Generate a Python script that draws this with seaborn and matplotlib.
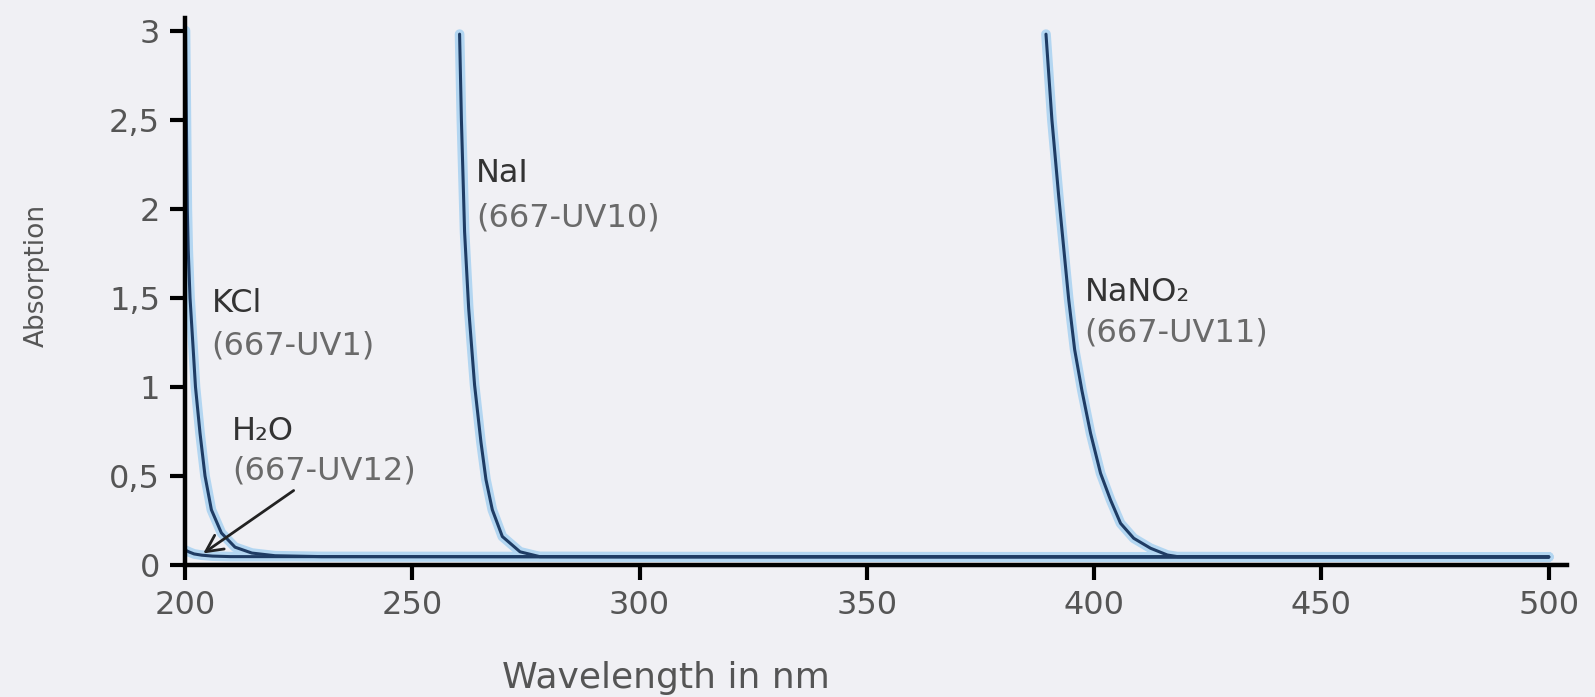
import matplotlib
matplotlib.use("Agg")
import matplotlib.pyplot as plt
import seaborn as sns
import pandas as pd

# ---- data ----
kcl_wl = [200.1, 200.3, 200.5, 200.7, 201.1, 201.8, 202.3, 203.3, 204.4, 205.8, 208, 211, 214.7, 219.8, 230, 500]
kcl_abs = [3.0, 2.5, 2.0, 1.77, 1.5, 1.21, 1.0, 0.74, 0.5, 0.31, 0.18, 0.10, 0.067, 0.052, 0.047, 0.045]

nai_wl = [260.4, 260.8, 261.5, 262.4, 263.7, 265.1, 266.2, 267.6, 269.8, 273.7, 278, 300, 500]
nai_abs = [2.98, 2.5, 1.87, 1.44, 1.01, 0.69, 0.48, 0.31, 0.16, 0.074, 0.047, 0.046, 0.045]

nano2_wl = [389.4, 390.7, 392.2, 393.6, 394.4, 395.7, 397.3, 399.2, 401.4, 403.6, 405.8, 408.7, 412.4, 416.1, 418.3, 450, 500]
nano2_abs = [2.98, 2.5, 2.07, 1.7, 1.49, 1.21, 0.98, 0.74, 0.515, 0.365, 0.234, 0.15, 0.094, 0.056, 0.047, 0.046, 0.045]

h2o_wl = [200, 201, 202, 203.7, 206, 210, 300, 500]
h2o_abs = [0.084, 0.072, 0.062, 0.055, 0.05, 0.047, 0.046, 0.045]

x_ticks = [200, 250, 300, 350, 400, 450, 500]
y_ticks = [0, 0.5, 1, 1.5, 2, 2.5, 3]
y_tick_labels = ["0", "0,5", "1", "1,5", "2", "2,5", "3"]

labels = [
    # name, code, x, y_name, y_code
    ("KCl", "(667-UV1)", 205.8, 1.47, 1.23),
    ("NaI", "(667-UV10)", 264.0, 2.20, 1.95),
    ("NaNO₂", "(667-UV11)", 397.9, 1.53, 1.30),
    ("H₂O", "(667-UV12)", 210.3, 0.75, 0.525),
]

series = {
    "KCl": (kcl_wl, kcl_abs),
    "NaI": (nai_wl, nai_abs),
    "NaNO2": (nano2_wl, nano2_abs),
    "H2O": (h2o_wl, h2o_abs),
}

# ---- style ----
sns.set_theme(style="white")
plt.rcParams["font.family"] = ["DejaVu Sans"]
bg = "#f0f0f4"

fig = plt.figure(figsize=(15.95, 6.97), dpi=100, facecolor=bg)
ax = fig.add_axes([0.116, 0.1894, 0.8664, 0.7846])
ax.set_facecolor(bg)

halo = "#b3d6f1"
core = "#1f3c64"
for name, (wl, ab) in series.items():
    df = pd.DataFrame({"wl": wl, "abs": ab})
    sns.lineplot(data=df, x="wl", y="abs", ax=ax, color=halo, lw=7,
                 estimator=None, sort=False, zorder=2)
for name, (wl, ab) in series.items():
    df = pd.DataFrame({"wl": wl, "abs": ab})
    sns.lineplot(data=df, x="wl", y="abs", ax=ax, color=core, lw=2.2,
                 estimator=None, sort=False, zorder=3)

ax.set_xlim(200, 504)
ax.set_ylim(0, 3.07)
ax.set_xticks(x_ticks)
ax.set_xticklabels([str(t) for t in x_ticks])
ax.set_yticks(y_ticks)
ax.set_yticklabels(y_tick_labels)

for s in ["top", "right"]:
    ax.spines[s].set_visible(False)
for s in ["left", "bottom"]:
    ax.spines[s].set_color("black")
    ax.spines[s].set_linewidth(3.2)
    ax.spines[s].set_zorder(4)

ax.tick_params(axis="both", which="major", direction="out", length=11, width=3.0,
               color="black", labelcolor="#555555", labelsize=23, pad=7,
               left=True, bottom=True)

ax.set_xlabel("Wavelength in nm", fontsize=26, color="#555555")
ax.set_ylabel("Absorption", fontsize=19, color="#555555")
ax.xaxis.set_label_coords(0.348, -0.175)
ax.yaxis.set_label_coords(-0.098, 0.53)

for name, code, x, yn, yc in labels:
    ax.text(x, yn, name, fontsize=23, color="#333333", ha="left", va="center", zorder=5)
    ax.text(x, yc, code, fontsize=23, color="#6a6a6a", ha="left", va="center", zorder=5)

ax.annotate("", xy=(203.5, 0.056), xytext=(224.4, 0.427),
            arrowprops=dict(arrowstyle="->", color="#222222", lw=2.0,
                            mutation_scale=30), zorder=5)

fig.savefig("out.png", dpi=100, facecolor=bg)
